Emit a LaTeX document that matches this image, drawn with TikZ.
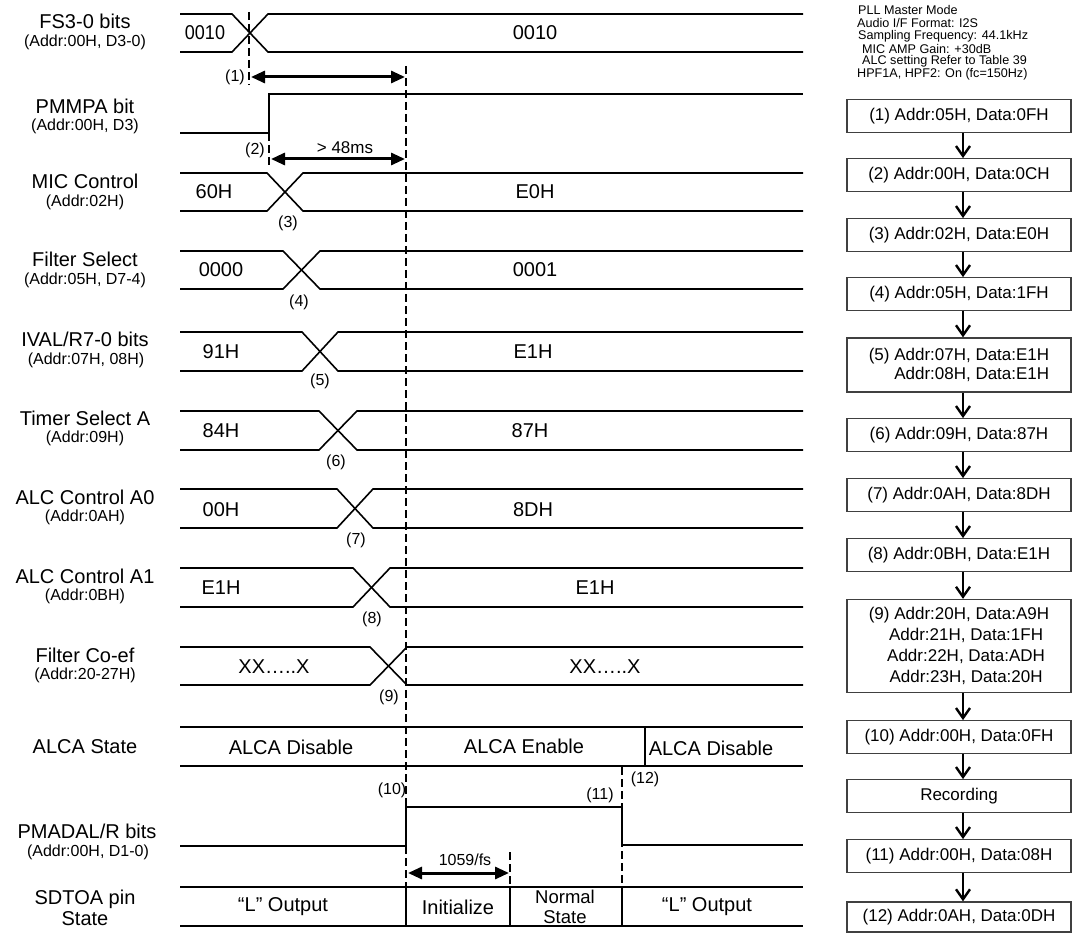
\documentclass[tikz,border=0pt]{standalone}
\usepackage{fontspec}
\setmainfont{Liberation Sans}
\usetikzlibrary{arrows.meta}
\begin{document}
\begin{tikzpicture}[x=1pt,y=-1pt,
  sig/.style={line width=1.6pt, black},
  dsh/.style={line width=2.6pt, dash pattern=on 8pt off 4pt},
  dim/.style={line width=3pt, {Triangle[length=14pt,width=12pt]}-{Triangle[length=14pt,width=12pt]}},
  lab/.style={inner sep=0pt, font=\fontsize{20}{22}\selectfont},
  sub/.style={inner sep=0pt, font=\fontsize{16}{18}\selectfont},
  val/.style={inner sep=0pt, font=\fontsize{20}{22}\selectfont},
  mk/.style={inner sep=0pt, font=\fontsize{16}{18}\selectfont},
  hdr/.style={inner sep=0pt, anchor=west, font=\fontsize{12.6}{13}\selectfont},
  box/.style={draw=black!75, line width=1.3pt, minimum width=224pt, minimum height=32.5pt, inner sep=0pt, font=\fontsize{17}{20}\selectfont},
  flow/.style={line width=2.4pt, -{Straight Barb[length=10pt,width=14pt]}},
]
\useasboundingbox (0,0) rectangle (1073,933);
\newcommand\busx[4]{%
  \draw[sig] (180,#1) -- (#3,#1) -- (#4,#2) -- (803,#2);
  \draw[sig] (180,#2) -- (#3,#2) -- (#4,#1) -- (803,#1);}

% ---------- left labels ----------
\node[lab] (l1)  at (85,21)  {FS3-0 bits};
\node[sub] (s1)  at (85,42)  {(Addr:00H, D3-0)};
\node[lab] (l2)  at (85,106) {PMMPA bit};
\node[sub] (s2)  at (85,126) {(Addr:00H, D3)};
\node[lab] (l3)  at (85,181) {MIC Control};
\node[sub] (s3)  at (85,202) {(Addr:02H)};
\node[lab] (l4)  at (85,259) {Filter Select};
\node[sub] (s4)  at (85,280) {(Addr:05H, D7-4)};
\node[lab] (l5)  at (85,339) {IVAL/R7-0 bits};
\node[sub] (s5)  at (86,360) {(Addr:07H, 08H)};
\node[lab] (l6)  at (85,418) {Timer Select A};
\node[sub] (s6)  at (85,438) {(Addr:09H)};
\node[lab] (l7)  at (85,497) {ALC Control A0};
\node[sub] (s7)  at (85,517) {(Addr:0AH)};
\node[lab] (l8)  at (85,576) {ALC Control A1};
\node[sub] (s8)  at (85,596) {(Addr:0BH)};
\node[lab] (l9)  at (85,655) {Filter Co-ef};
\node[sub] (s9)  at (85,675) {(Addr:20-27H)};
\node[lab] (l10) at (85,747) {ALCA State};
\node[lab] (l11) at (87,831) {PMADAL/R bits};
\node[sub] (s11) at (88,852) {(Addr:00H, D1-0)};
\node[lab] (l12) at (85,899) {SDTOA pin};
\node[lab] (s12) at (85,919) {State};

% ---------- buses ----------
\busx{14}{52}{232}{268}
\busx{173}{211}{267}{303}
\busx{251}{289}{283}{320}
\busx{332}{371}{302}{338}
\busx{411}{450}{319}{357}
\busx{489}{528}{337}{373}
\busx{568}{607}{353}{390}
\busx{647}{685}{370}{407}

% PMMPA bit
\draw[sig] (180,133) -- (269,133) -- (269,94) -- (803,94);
% PMADAL/R bits
\draw[sig] (180,846) -- (406,846) -- (406,807) -- (622,807) -- (622,845) -- (803,845);
% ALCA state row
\draw[sig] (180,727) -- (803,727);
\draw[sig] (180,766) -- (803,766);
\draw[sig] (645,727) -- (645,766);
% SDTOA row
\draw[sig] (180,887) -- (803,887);
\draw[sig] (180,926) -- (803,926);
\foreach \xx in {406,510,622} \draw[sig] (\xx,887) -- (\xx,926);

% ---------- values ----------
\node[val] (v1a) at (205,33) {\scalebox{0.9}[1]{0010}};
\node[val] (v1b) at (535,33) {0010};
\node[val] (v3a) at (214,192) {60H};
\node[val] (v3b) at (535,192) {E0H};
\node[val] (v4a) at (221,270) {0000};
\node[val] (v4b) at (535,270) {0001};
\node[val] (v5a) at (221,352) {91H};
\node[val] (v5b) at (533,352) {E1H};
\node[val] (v6a) at (221,431) {84H};
\node[val] (v6b) at (530,431) {87H};
\node[val] (v7a) at (221,510) {00H};
\node[val] (v7b) at (533,510) {8DH};
\node[val] (v8a) at (221,588) {E1H};
\node[val] (v8b) at (595,588) {E1H};
\node[val] (v9a) at (274,667) {XX…..X};
\node[val] (v9b) at (605,667) {XX…..X};
\node[val] (a1) at (291,747) {ALCA Disable};
\node[val] (a2) at (524,746) {ALCA Enable};
\node[val] (a3) at (711,748) {ALCA Disable};
\node[val] (d1) at (283,907) {“L” Output};
\node[val] (d2) at (458,907) {Initialize};
\node[val,font=\fontsize{18.5}{19.5}\selectfont,align=center] (d3) at (565,907) {Normal\\State};
\node[val] (d4) at (707,907) {“L” Output};

% ---------- markers ----------
\node[mk] (m1)  at (235,77)  {(1)};
\node[mk] (m2)  at (255,150) {(2)};
\node[mk] (m3)  at (288,223) {(3)};
\node[mk] (m4)  at (299,302) {(4)};
\node[mk] (m5)  at (320,381) {(5)};
\node[mk] (m6)  at (336,462) {(6)};
\node[mk] (m7)  at (356,540) {(7)};
\node[mk] (m8)  at (372,619) {(8)};
\node[mk] (m9)  at (389,697) {(9)};
\node[mk] (m10) at (392,790) {(10)};
\node[mk] (m11) at (600,795) {(11)};
\node[mk] (m12) at (645,779) {(12)};
\node[mk,font=\fontsize{17}{18}\selectfont] (t48) at (345,148) {> 48ms};
\node[mk] (t1059) at (465,860) {1059/fs};

% ---------- dashed lines ----------
\coordinate (k0t) at (406,66);  \coordinate (k0b) at (406,887);
\coordinate (k1t) at (249,12);  \coordinate (k1b) at (249,85);
\coordinate (k2t) at (269,133); \coordinate (k2b) at (269,168);
\coordinate (k3t) at (622,767); \coordinate (k3b) at (622,887);
\coordinate (k4t) at (510,852); \coordinate (k4b) at (510,887);
\draw[dsh] (k0t) -- (k0b);
\draw[dsh] (k1t) -- (k1b);
\draw[dsh] (k2t) -- (k2b);
\draw[dsh] (k3t) -- (k3b);
\draw[dsh] (k4t) -- (k4b);

% ---------- dimension arrows ----------
\coordinate (e1a) at (251,77);  \coordinate (e1b) at (405,77);
\coordinate (e2a) at (271,159); \coordinate (e2b) at (405,159);
\coordinate (e3a) at (408,873); \coordinate (e3b) at (509,873);
\draw[dim] (e1a) -- (e1b);
\draw[dim] (e2a) -- (e2b);
\draw[dim] (e3a) -- (e3b);

% ---------- right panel ----------
\node[hdr] (h1) at (858,10) {PLL Master Mode};
\node[hdr] (h2) at (857,23) {Audio I/F Format: I2S};
\node[hdr] (h3) at (858,36) {Sampling Frequency: 44.1kHz};
\node[hdr] (h4) at (862,48.5) {MIC AMP Gain: +30dB};
\node[hdr] (h5) at (862,61) {ALC setting Refer to Table 39};
\node[hdr] (h6) at (857,74) {HPF1A, HPF2: On (fc=150Hz)};

\node[box] (b1)  at (959,116) {(1) Addr:05H, Data:0FH};
\node[box] (b2)  at (959,175) {(2) Addr:00H, Data:0CH};
\node[box] (b3)  at (959,235) {(3) Addr:02H, Data:E0H};
\node[box] (b4)  at (959,294) {(4) Addr:05H, Data:1FH};
\node[box,minimum height=54pt,align=right,font=\fontsize{17}{18.5}\selectfont] (b5) at (959,365) {(5) Addr:07H, Data:E1H\\Addr:08H, Data:E1H};
\node[box] (b6)  at (959,435) {(6) Addr:09H, Data:87H};
\node[box] (b7)  at (959,495) {(7) Addr:0AH, Data:8DH};
\node[box] (b8)  at (959,555) {(8) Addr:0BH, Data:E1H};
\node[box,minimum height=93pt,align=center,font=\fontsize{17}{21}\selectfont] (b9) at (959,646) {(9) Addr:20H, Data:A9H\\\ \ \ Addr:21H, Data:1FH\\\ \ \ Addr:22H, Data:ADH\\\ \ \ Addr:23H, Data:20H};
\node[box] (b10) at (959,737) {(10) Addr:00H, Data:0FH};
\node[box] (brec) at (959,796) {Recording};
\node[box] (b11) at (959,856) {(11) Addr:00H, Data:08H};
\node[box,minimum height=30pt] (b12) at (959,917) {(12) Addr:0AH, Data:0DH};

\coordinate (ax) at (963,0);
\foreach \p/\q in {b1/b2,b2/b3,b3/b4,b4/b5,b5/b6,b6/b7,b7/b8,b8/b9,b9/b10,b10/brec,brec/b11,b11/b12}
  \draw[flow] (\p.south -| ax) -- (\q.north -| ax);
\end{tikzpicture}
\end{document}
